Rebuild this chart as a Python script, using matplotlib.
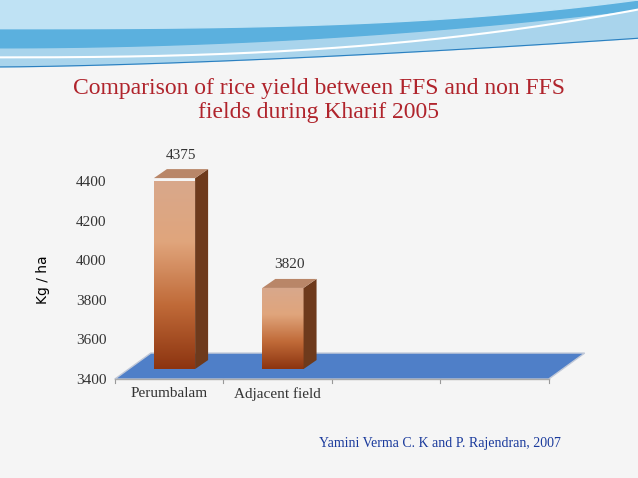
import numpy as np
import matplotlib
matplotlib.use("Agg")
import matplotlib.pyplot as plt
from matplotlib.patches import Polygon
import matplotlib.transforms as mtrans

categories = ["Perumbalam", "Adjacent field"]
values = [4375, 3820]
yticks = [3400, 3600, 3800, 4000, 4200, 4400]
title = "Comparison of rice yield between FFS and non FFS\nfields during Kharif 2005"
source = "Yamini Verma C. K and P. Rajendran, 2007"

fig = plt.figure(figsize=(6.38, 4.78), dpi=100)
fig.patch.set_facecolor("#f5f5f5")

bg = fig.add_axes([0, 0, 1, 1], zorder=0)
bg.set_xlim(0, 1); bg.set_ylim(0, 1); bg.axis("off")
x = np.linspace(0, 1, 300)
bg.fill_between(x, 1, 0.86 + 0.06 * x**1.5, color="#a9d4ec")
bg.fill_between(x, 1, 0.90 + 0.08 * x**2, color="#5bb0de")
bg.fill_between(x, 1, 0.94 + 0.06 * x**3, color="#bfe2f4")
bg.plot(x, 0.86 + 0.06 * x**1.5, color="#2a7fc0", lw=0.8)
bg.plot(x, 0.88 + 0.10 * x**2.5, color="white", lw=1.5)

fig.text(0.5, 0.79, title, ha="center", va="center", fontsize=17,
         family="Liberation Serif", color="#b0242c", linespacing=1.15)
fig.text(0.69, 0.073, source, ha="center", va="center", fontsize=10,
         family="Liberation Serif", color="#1a3a9c")

ax = fig.add_axes([0.18, 0.207, 0.68, 0.414], zorder=1)
ax.set_facecolor("none")
ax.set_xlim(0, 4)
ax.set_ylim(3400, 4400)
ax.set_yticks(yticks)
ax.set_yticklabels([str(t) for t in yticks], family="Liberation Serif", fontsize=11, color="#333")
ax.set_xticks([0.5, 1.5])
ax.set_xticklabels(categories, family="Liberation Serif", fontsize=11, color="#333")
ax.tick_params(length=0, pad=6)
for s in ax.spines.values():
    s.set_visible(False)
ax.set_ylabel("Kg / ha", fontsize=10, family="DejaVu Sans")
ax.yaxis.set_label_coords(-0.15, 0.5)

dx, dy = 36, 26
pts = ax.transData.transform([(0, 3400), (4, 3400)])
poly = np.array([pts[0], pts[1], pts[1] + [dx, dy], pts[0] + [dx, dy]])
ax.add_patch(Polygon(poly, closed=True, transform=None, facecolor="#4f7fc8",
                     edgecolor="#c0c8d8", lw=1, zorder=1, clip_on=False))
for xv in [0, 1, 2, 3, 4]:
    p = ax.transData.transform([(xv, 3400)])[0]
    ax.plot([p[0], p[0]], [p[1], p[1] - 4], transform=None, color="#999", lw=0.8, clip_on=False)
ax.plot([pts[0][0], pts[1][0]], [pts[0][1], pts[1][1]], transform=None, color="#aaa", lw=1, clip_on=False)

grad = np.linspace(0, 1, 256).reshape(-1, 1)
cmap = matplotlib.colors.LinearSegmentedColormap.from_list(
    "b", ["#8c3410", "#c06a38", "#e0a57c", "#d8a88c"])
bdx, bdy = 13, 9
for i, v in enumerate(values):
    x0, x1 = i + 0.36, i + 0.74
    p0 = ax.transData.transform((x0, 3400))
    p1 = ax.transData.transform((x1, v))
    base = p0[1] + 10
    top_y = p1[1] + 8
    face = Polygon([(p0[0], base), (p1[0], base), (p1[0], top_y), (p0[0], top_y)],
                   closed=True, transform=None, facecolor="none", edgecolor="none", clip_on=False)
    ax.add_patch(face)
    im = ax.imshow(grad, cmap=cmap, aspect="auto", origin="lower",
                   extent=(x0, x1, 3400, v), zorder=3)
    sx = (p1[0]-p0[0])/(x1-x0); sy = (top_y-base)/(v-3400)
    im.set_transform(mtrans.Affine2D().scale(sx, sy).translate(p0[0]-x0*sx, base-3400*sy))
    im.set_clip_path(face)
    side = Polygon([(p1[0], base), (p1[0]+bdx, base+bdy), (p1[0]+bdx, top_y+bdy), (p1[0], top_y)],
                   closed=True, transform=None, facecolor="#6e3a1c", zorder=3, clip_on=False)
    top = Polygon([(p0[0], top_y), (p1[0], top_y), (p1[0]+bdx, top_y+bdy), (p0[0]+bdx, top_y+bdy)],
                  closed=True, transform=None, facecolor="#b98668", zorder=3, clip_on=False)
    ax.add_patch(side); ax.add_patch(top)
    ax.text((p0[0]+p1[0])/2 + bdx/2, top_y + bdy + 14, str(v), transform=None,
            ha="center", va="center", family="Liberation Serif", fontsize=11, color="#333")

fig.savefig("out.png", dpi=100, facecolor=fig.get_facecolor())
